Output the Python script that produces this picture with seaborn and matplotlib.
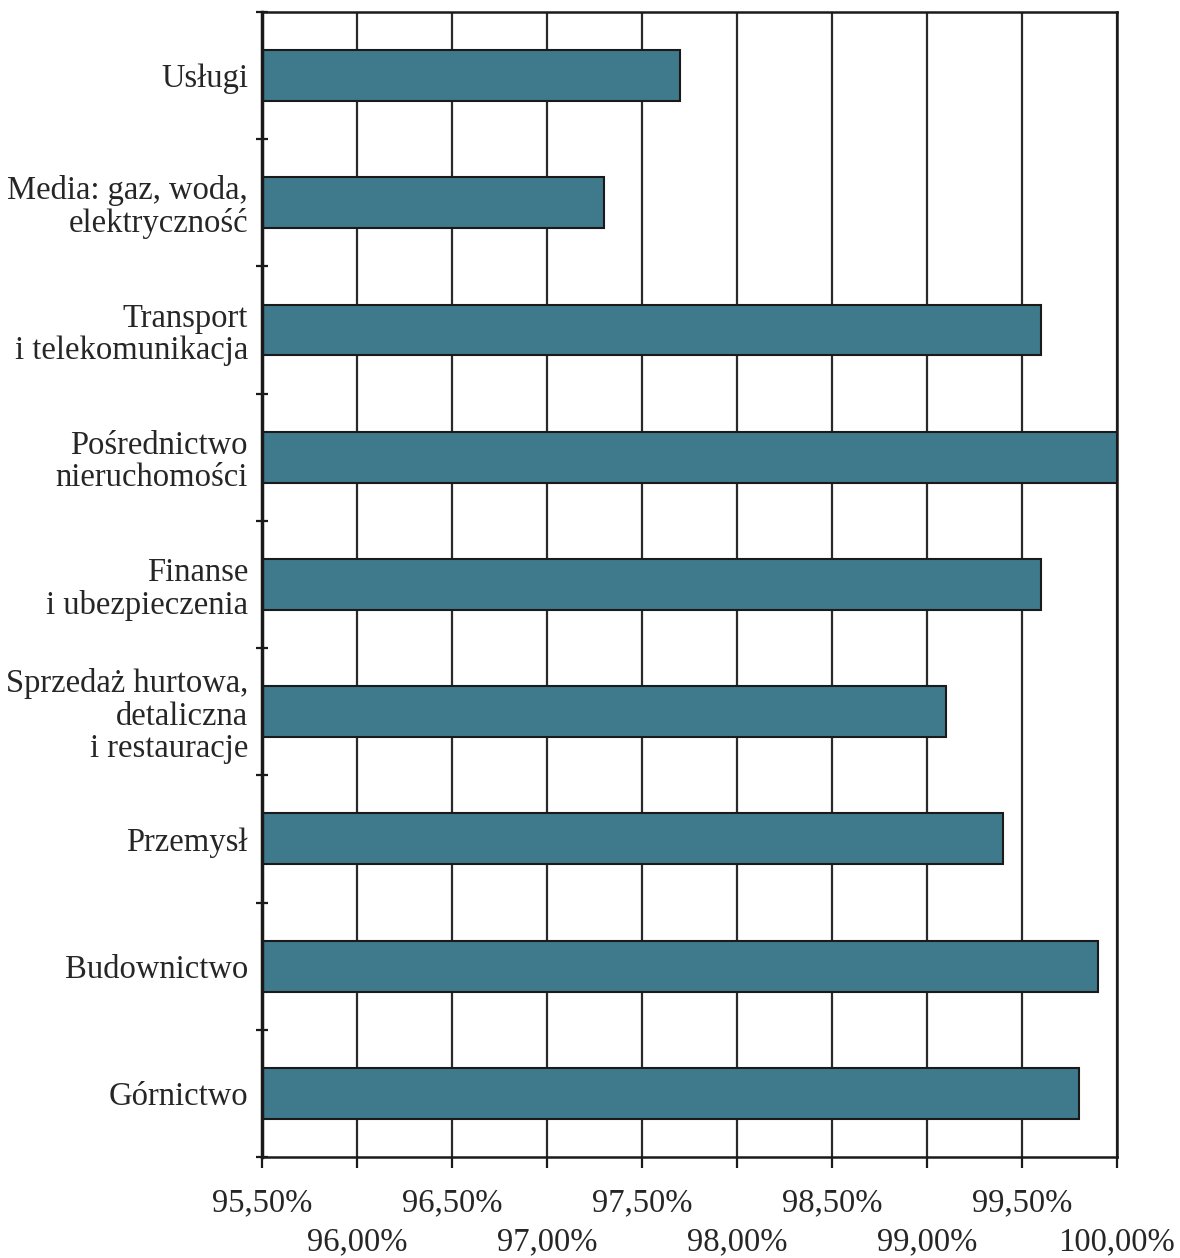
import numpy as np
import pandas as pd
import matplotlib
matplotlib.use("Agg")
import matplotlib.pyplot as plt
import matplotlib.transforms as mtransforms
import seaborn as sns

categories = ["Usługi", "Media: gaz, woda,\nelektryczność", "Transport\ni telekomunikacja",
              "Pośrednictwo\nnieruchomości", "Finanse\ni ubezpieczenia",
              "Sprzedaż hurtowa,\ndetaliczna\ni restauracje", "Przemysł",
              "Budownictwo", "Górnictwo"]
values = [97.70, 97.30, 99.60, 100.00, 99.60, 99.10, 99.40, 99.90, 99.80]
xticks = [95.5, 96.0, 96.5, 97.0, 97.5, 98.0, 98.5, 99.0, 99.5, 100.0]
xticklabels = ["95,50%", "96,00%", "96,50%", "97,00%", "97,50%",
               "98,00%", "98,50%", "99,00%", "99,50%", "100,00%"]

df = pd.DataFrame({"cat": categories, "val": values})

sns.set_style("white")
plt.rcParams['font.family'] = ['Liberation Serif', 'DejaVu Serif']

fig = plt.figure(figsize=(11.8, 12.58), dpi=100)
ax = fig.add_axes([0.222, 0.0803, 0.7246, 0.9102])

for x in xticks:
    ax.axvline(x, color="#2a2a2a", lw=1.6, zorder=0)

sns.barplot(data=df, x="val", y="cat", orient="h", color="#3f7a8c",
            edgecolor="#1a1a1a", linewidth=1.5, width=0.4, saturation=1, ax=ax)

ax.set_xlim(95.5, 100.0)
ax.set_ylim(8.5, -0.5)
ax.set_xticks(xticks)
ax.set_xticklabels(xticklabels, fontsize=23.5)
ax.set_yticks(range(len(categories)))
ax.set_yticklabels(categories, fontsize=23.5, linespacing=1.08)
ax.set_yticks(np.arange(-0.5, 8.6, 1.0), minor=True)
ax.tick_params(axis="y", which="major", left=True, length=0, pad=10)
ax.tick_params(axis="y", which="minor", left=True, length=8, width=1.6,
               direction="inout", color="#1a1a1a")
ax.tick_params(axis="x", which="major", bottom=True, length=8, width=1.6,
               direction="out", color="#1a1a1a", pad=14)
ax.set_xlabel("")
ax.set_ylabel("")
for s in ax.spines.values():
    s.set_color("#1a1a1a")
    s.set_linewidth(1.8)
ax.spines["left"].set_linewidth(2.5)

# staggered x labels: every second one goes to a lower row
shift = mtransforms.ScaledTranslation(0, -0.395, fig.dpi_scale_trans)
for i, lbl in enumerate(ax.get_xticklabels()):
    if i % 2:
        lbl.set_transform(lbl.get_transform() + shift)

fig.savefig("out.png", dpi=100)
